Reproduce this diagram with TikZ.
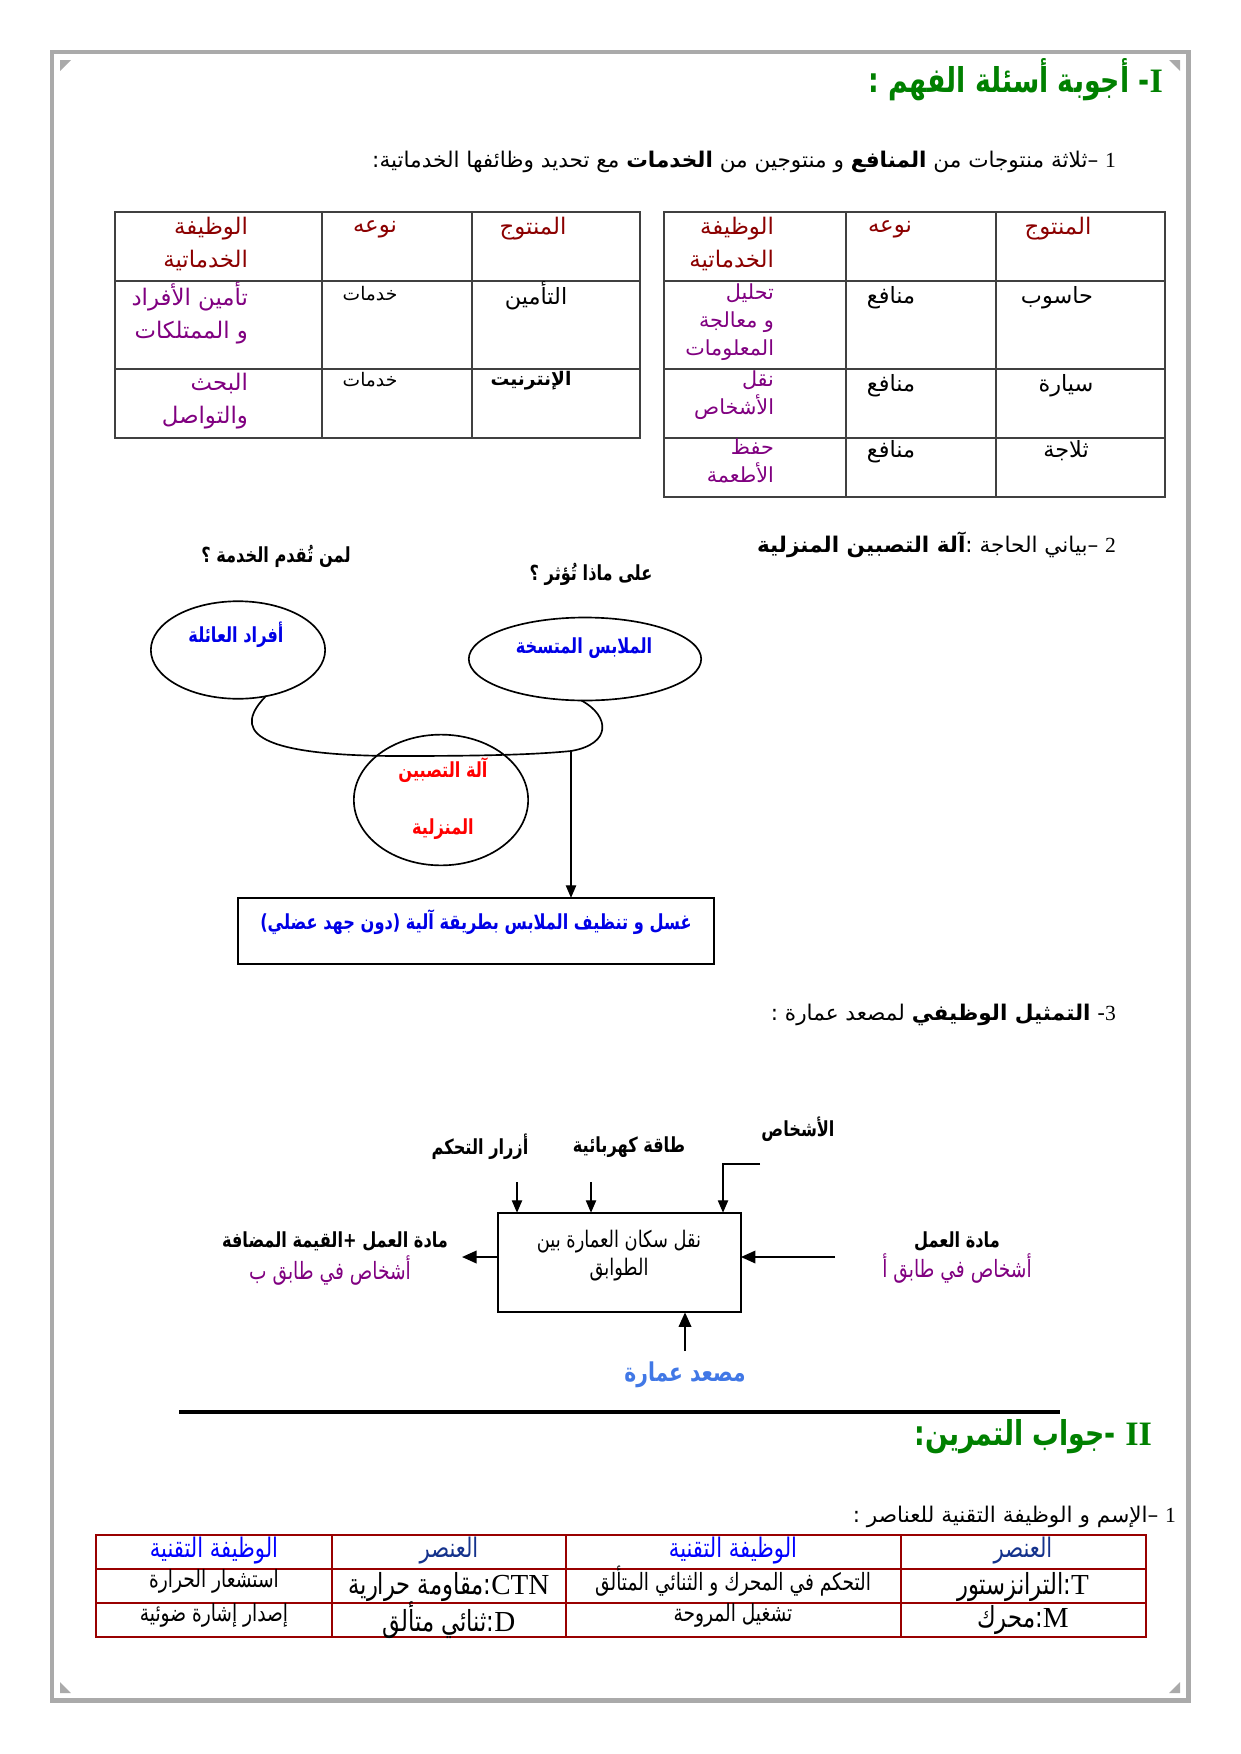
\documentclass[tikz,border=0pt]{standalone}
\usepackage{fontspec}
\setmainfont{Liberation Serif}
\newfontfamily\arabicfont[Script=Arabic]{DejaVu Sans}
\newfontfamily\arabiccond[Script=Arabic, FakeStretch=0.78]{DejaVu Sans}
\TeXXeTstate=1
\usetikzlibrary{arrows.meta, positioning, shapes.geometric}

\definecolor{vertitre}{RGB}{0,128,0}
\definecolor{grenat}{RGB}{139,0,0}
\definecolor{mauve}{RGB}{128,0,128}
\definecolor{grisbord}{RGB}{170,170,170}
\definecolor{bleuetiq}{RGB}{0,0,230}
\definecolor{bleuclair}{RGB}{65,120,230}
\definecolor{rougetab}{RGB}{153,0,0}
\definecolor{bleunuit}{RGB}{20,50,140}

\newcommand{\artxt}[1]{{\beginR #1\endR}}
\newcommand{\lat}[1]{{\rmfamily #1}}

\tikzset{
  every node/.style={inner sep=0pt, outer sep=0pt},
  titre/.style={text=vertitre, font=\arabiccond\bfseries\fontsize{16.5}{20}\selectfont},
  ligne/.style={font=\arabicfont\fontsize{10.4}{13}\selectfont},
  trait/.style={draw=black!75, line width=0.8pt},
  entete/.style={text=grenat, align=right, font=\arabicfont\fontsize{11}{15.5}\selectfont},
  cellule/.style={font=\arabicfont\fontsize{10.8}{13}\selectfont},
  petite/.style={font=\arabicfont\fontsize{9}{13.5}\selectfont},
  fonction/.style={text=mauve, align=right, font=\arabicfont\fontsize{11}{16}\selectfont},
  bulle/.style={draw, ellipse, line width=0.8pt},
  etiq/.style={font=\arabiccond\bfseries\fontsize{10}{12}\selectfont},
  mince/.style={font=\arabiccond\fontsize{11.5}{13.5}\selectfont},
  fleche/.style={-{Triangle[length=6pt,width=5pt]}, line width=0.6pt},
  grosfleche/.style={-{Triangle[length=7pt,width=6pt]}, line width=1pt},
  cadre/.style={draw, line width=1pt},
  grille/.style={draw=rougetab, line width=0.9pt},
  tete/.style={font=\arabiccond\fontsize{13}{15}\selectfont},
  element/.style={font=\arabiccond\fontsize{14}{16}\selectfont},
  role/.style={font=\arabiccond\fontsize{11.5}{13}\selectfont},
}

\begin{document}
\begin{tikzpicture}[x=0.4819pt, y=-0.4819pt]
\useasboundingbox (0,0) rectangle (1240,1754);

% cadre de la page
\draw[grisbord, line width=2.4pt] (52,52) rectangle (1188,1700);
\fill[grisbord] (60,60) -- (71,60) -- (60,71) -- cycle;
\fill[grisbord] (1180,60) -- (1169,60) -- (1180,71) -- cycle;
\fill[grisbord] (60,1693) -- (71,1693) -- (60,1682) -- cycle;
\fill[grisbord] (1180,1693) -- (1169,1693) -- (1180,1682) -- cycle;

% I - reponses
\node[titre, anchor=east] (titreI) at (1163,80) {\artxt{\lat{I}- أجوبة أسئلة الفهم :}};
\node[ligne, anchor=east] (q1) at (1116,162) {\artxt{\lat{1} –ثلاثة منتوجات من \textbf{المنافع} و منتوجين من \textbf{الخدمات} مع تحديد وظائفها الخدماتية:}};

% tableau des services
\draw[trait] (115,212) rectangle (640,438);
\foreach \x in {322,472} \draw[trait] (\x,212) -- (\x,438);
\foreach \y in {281,369} \draw[trait] (115,\y) -- (640,\y);
\node[entete] (sProd) at (533,229) {\artxt{المنتوج}};
\node[entete] (sType) at (375,229) {\artxt{نوعه}};
\node[entete, anchor=east] (sFonc) at (248,244) {\artxt{الوظيفة}\\\artxt{الخدماتية}};
\node[cellule] (sProdA) at (536,296) {\artxt{التأمين}};
\node[petite] (sTypeA) at (370,294) {\artxt{خدمات}};
\node[fonction, anchor=east] (sFoncA) at (248,313) {\artxt{تأمين الأفراد}\\\artxt{و الممتلكات}};
\node[cellule, font=\arabicfont\bfseries\fontsize{9}{13}\selectfont] (sProdB) at (531,381) {\artxt{الإنترنيت}};
\node[petite] (sTypeB) at (370,380) {\artxt{خدمات}};
\node[fonction, anchor=east] (sFoncB) at (248,401) {\artxt{البحث}\\\artxt{والتواصل}};

% tableau des biens
\draw[trait] (664,212) rectangle (1165,497);
\foreach \x in {846,996} \draw[trait] (\x,212) -- (\x,497);
\foreach \y in {281,369,438} \draw[trait] (664,\y) -- (1165,\y);
\node[entete] (bProd) at (1058,229) {\artxt{المنتوج}};
\node[entete] (bType) at (890,229) {\artxt{نوعه}};
\node[entete, anchor=east] (bFonc) at (774,244) {\artxt{الوظيفة}\\\artxt{الخدماتية}};
\node[cellule] (bProdA) at (1057,298) {\artxt{حاسوب}};
\node[cellule] (bTypeA) at (891,298) {\artxt{منافع}};
\node[fonction, anchor=east, font=\arabicfont\fontsize{10}{13.5}\selectfont] (bFoncA) at (774,322) {\artxt{تحليل}\\\artxt{و معالجة}\\\artxt{المعلومات}};
\node[cellule] (bProdB) at (1066,386) {\artxt{سيارة}};
\node[cellule] (bTypeB) at (891,386) {\artxt{منافع}};
\node[fonction, anchor=east, font=\arabicfont\fontsize{10}{13.5}\selectfont] (bFoncB) at (774,395) {\artxt{نقل}\\\artxt{الأشخاص}};
\node[cellule] (bProdC) at (1066,451) {\artxt{ثلاجة}};
\node[cellule] (bTypeC) at (891,452) {\artxt{منافع}};
\node[fonction, anchor=east, font=\arabicfont\fontsize{10}{13.5}\selectfont] (bFoncC) at (774,461) {\artxt{حفظ}\\\artxt{الأطعمة}};

% 2 - bete a cornes
\node[ligne, anchor=east] (q2) at (1116,545) {\artxt{\lat{2} –بياني الحاجة :\textbf{آلة التصبين المنزلية}}};
\node[etiq] (qui) at (276,556) {\artxt{لمن تُقدم الخدمة ؟}};
\node[etiq] (quoi) at (591,574) {\artxt{على ماذا تُؤثر ؟}};
\node[bulle, minimum width=84pt, minimum height=47pt] (famille) at (238,650) {};
\node[etiq, text=bleuetiq] (familleTxt) at (236,635) {\artxt{أفراد العائلة}};
\node[bulle, minimum width=112pt, minimum height=40pt] (linge) at (585,659) {};
\node[etiq, text=bleuetiq] (lingeTxt) at (584,648) {\artxt{الملابس المتسخة}};
\node[bulle, minimum width=84pt, minimum height=63pt] (machine) at (441,800) {};
\node[etiq, text=red, align=center, font=\arabiccond\bfseries\fontsize{10}{27.5}\selectfont] (machineTxt) at (443,799) {\artxt{آلة التصبين}\\\artxt{المنزلية}};
\coordinate (jonction) at (571,751);
\draw[line width=0.8pt] (famille.-59) .. controls (235,728) and (245,756) .. (400,756)
  .. controls (500,756) and (540,754) .. (jonction)
  .. controls (612,744) and (610,716) .. (linge.-95);
\node[cadre, minimum width=229pt, minimum height=32pt] (lavage) at (476,931) {};
\node[etiq, text=bleuetiq] (lavageTxt) at (476,922) {\artxt{غسل و تنظيف الملابس بطريقة آلية (دون جهد عضلي)}};
\draw[fleche] (jonction) -- (jonction |- lavage.north);

% 3 - actigramme
\node[ligne, anchor=east] (q3) at (1116,1015) {\artxt{\lat{3}- \textbf{التمثيل الوظيفي} لمصعد عمارة :}};
\node[cadre, minimum width=117pt, minimum height=48pt] (ascenseur) at (619.5,1262.5) {};
\node[mince, align=center, font=\arabiccond\fontsize{11}{13.5}\selectfont] (ascTxt) at (619,1256) {\artxt{نقل سكان العمارة بين}\\\artxt{الطوابق}};
\coordinate (boutons) at (517,1182);
\coordinate (energie) at (591,1182);
\coordinate (personnes) at (760,1164);
\coordinate (coude) at (723,1164);
\draw[fleche] (boutons) -- (boutons |- ascenseur.north);
\draw[fleche] (energie) -- (energie |- ascenseur.north);
\draw[fleche] (personnes) -- (coude) -- (coude |- ascenseur.north);
\node[etiq] (boutonsTxt) at (480,1147) {\artxt{أزرار التحكم}};
\node[etiq] (energieTxt) at (629,1147) {\artxt{طاقة كهربائية}};
\node[etiq] (personnesTxt) at (798,1129) {\artxt{الأشخاص}};
\coordinate (entree) at (835,1257);
\coordinate (sortie) at (462,1257);
\coordinate (support) at (685,1351);
\draw[grosfleche] (entree) -- (ascenseur.east |- entree);
\draw[grosfleche] (ascenseur.west |- sortie) -- (sortie);
\draw[grosfleche] (support) -- (support |- ascenseur.south);
\node[etiq] (moeTxt) at (957,1241) {\artxt{مادة العمل}};
\node[mince, text=mauve] (moeEtat) at (957,1268) {\artxt{أشخاص في طابق أ}};
\node[etiq] (mosTxt) at (335,1241) {\artxt{مادة العمل +القيمة المضافة}};
\node[mince, text=mauve] (mosEtat) at (330,1270) {\artxt{أشخاص في طابق ب}};
\node[etiq, text=bleuclair, font=\arabiccond\bfseries\fontsize{12.5}{14}\selectfont] (supportTxt) at (685,1375) {\artxt{مصعد عمارة}};

% II - exercice
\draw[line width=1.5pt] (179,1412) -- (1060,1412);
\node[titre, anchor=east] (titreII) at (1152,1437) {\artxt{\lat{II} -جواب التمرين:}};
\node[ligne, anchor=east] (q4) at (1176,1517) {\artxt{\lat{1} –الإسم و الوظيفة التقنية للعناصر :}};

\draw[grille] (96,1535) rectangle (1146,1637);
\foreach \x in {332,566,901} \draw[grille] (\x,1535) -- (\x,1637);
\foreach \y in {1569,1603} \draw[grille] (96,\y) -- (1146,\y);
\foreach \x/\n in {1023/a,449/b} \node[tete, text=bleunuit] (elem\n) at (\x,1551) {\artxt{العنصر}};
\foreach \x/\n in {733/a,214/b} \node[tete, text=blue] (role\n) at (\x,1551) {\artxt{الوظيفة التقنية}};
\node[element] (elemT) at (1023,1587) {\artxt{\lat{T}:الترانزستور}};
\node[role] (roleT) at (733,1581) {\artxt{التحكم في المحرك و الثنائي المتألق}};
\node[element] (elemCTN) at (449,1587) {\artxt{\lat{CTN}:مقاومة حرارية}};
\node[role] (roleCTN) at (214,1581) {\artxt{استشعار الحرارة}};
\node[element] (elemM) at (1023,1620) {\artxt{\lat{M}:محرك}};
\node[role] (roleM) at (733,1615) {\artxt{تشغيل المروحة}};
\node[element] (elemD) at (449,1620) {\artxt{\lat{D}:ثنائي متألق}};
\node[role] (roleD) at (214,1615) {\artxt{إصدار إشارة ضوئية}};
\end{tikzpicture}
\end{document}
